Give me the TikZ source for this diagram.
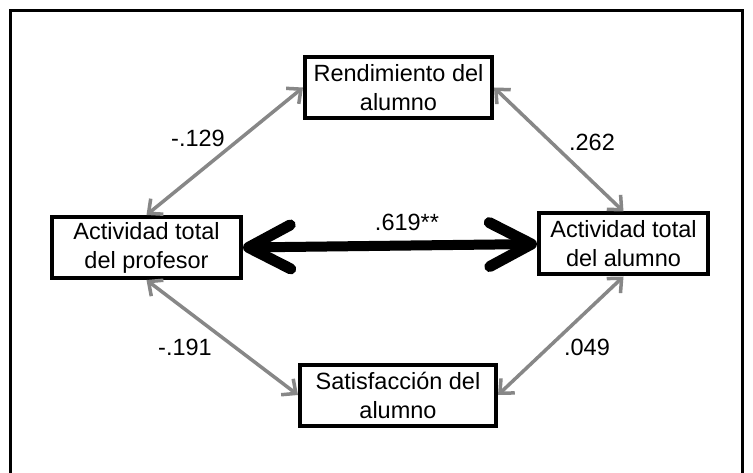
\documentclass[tikz,border=0pt]{standalone}
\usepackage{fontspec}
\setmainfont{Liberation Sans}
\usetikzlibrary{arrows.meta,shadows}
\definecolor{arrowgray}{RGB}{135,135,135}
\begin{document}
\begin{tikzpicture}[x=1pt,y=-1pt,
  box/.style={draw=black, line width=4pt, fill=white, align=center,
    font=\fontsize{23.5}{29}\selectfont, inner sep=0pt, minimum height=61pt,
    drop shadow={opacity=0.25, shadow xshift=2pt, shadow yshift=-2pt}},
  lbl/.style={font=\fontsize{23.5}{28}\selectfont, inner sep=0pt},
  graylink/.style={draw=arrowgray, line width=3.5pt,
    {Straight Barb[length=11pt,width=20pt,line width=3.5pt]}-{Straight Barb[length=11pt,width=20pt,line width=3.5pt]}},
  boldlink/.style={draw=black, line width=10pt,
    {Straight Barb[length=42pt,width=44pt,line width=11pt,round]}-{Straight Barb[length=42pt,width=44pt,line width=11pt,round]}}
]
\useasboundingbox (0,0) rectangle (753,473);
\fill[white] (0,0) rectangle (753,473);
\draw[line width=3pt] (10,485) -- (10,11) -- (742,11) -- (742,485);

\node[box, minimum width=187pt] (rend) at (398.5,87.5) {Rendimiento del\\alumno};
\node[box, minimum width=189pt] (prof) at (146.5,247.5) {Actividad total\\del profesor};
\node[box, minimum width=169pt] (alum) at (623.5,244) {Actividad total\\del alumno};
\node[box, minimum width=196pt] (satis) at (398,395) {Satisfacción del\\alumno};

\draw[graylink] (prof.north) -- (rend.west);
\draw[graylink] (rend.east) -- (alum.north);
\draw[graylink] (prof.south) -- (satis.west);
\draw[graylink] (alum.south) -- (satis.east);
\draw[boldlink] (prof.east) -- (alum.west);

\node[lbl] (l1) at (198,138) {-.129};
\node[lbl] (l2) at (592,142) {.262};
\node[lbl] (l3) at (185,347) {-.191};
\node[lbl] (l4) at (587,347) {.049};
\node[lbl] (l5) at (407,222) {.619**};
\end{tikzpicture}
\end{document}
